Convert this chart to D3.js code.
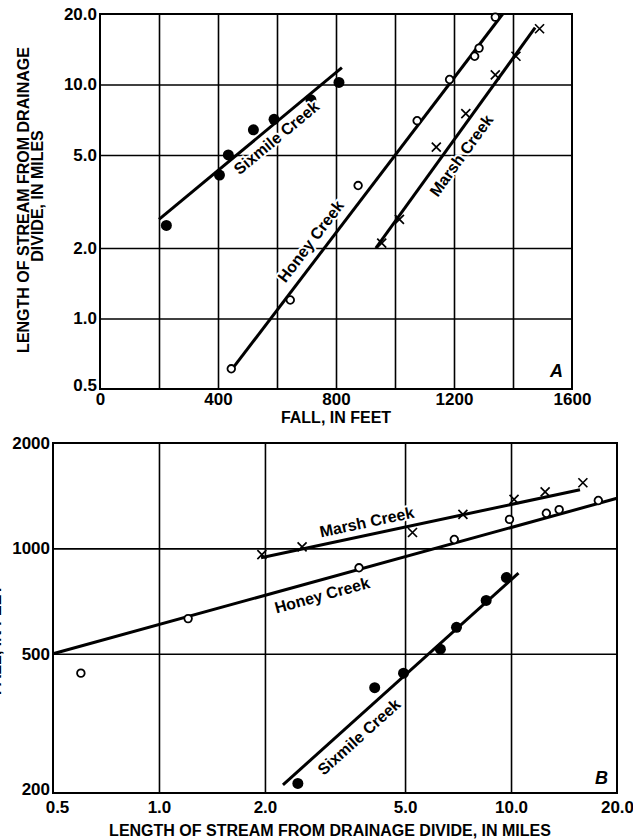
<!DOCTYPE html>
<html>
<head>
<meta charset="utf-8">
<script src="https://cdn.jsdelivr.net/npm/d3@7"></script>
<style>
  body { margin: 0; background: #fff; }
  svg { display: block; font-family: "Liberation Sans", Arial, sans-serif; font-weight: bold; }
  .grid line { stroke: #000; stroke-width: 1.6; }
  .grid .domain, .labels .domain { display: none; }
  .labels text { font-size: 17px; fill: #000; }
  .frame { fill: none; stroke: #000; stroke-width: 2; }
  .fit { fill: none; stroke: #000; stroke-width: 3; }
  .creek { font-size: 16px; paint-order: stroke; stroke: #fff; stroke-width: 4px; stroke-linejoin: round; }
  .title { font-size: 16px; }
  .panel-id { font-size: 18px; font-style: italic; }
</style>
</head>
<body>
<script>
// Panel A: fall (feet) vs length of stream (miles)
const sixmileA = [[225, 2.5], [405, 4.1], [435, 5.0], [520, 6.4], [590, 7.1], [715, 8.6], [810, 10.2]];
const honeyA = [[445, 0.61], [645, 1.2], [875, 3.7], [1075, 7.0], [1185, 10.5], [1270, 13.2], [1285, 14.3], [1340, 19.4]];
const marshA = [[955, 2.1], [1015, 2.65], [1140, 5.4], [1240, 7.5], [1340, 11.0], [1410, 13.2], [1490, 17.3]];
const sixmileFitA = [[200, 2.65], [820, 11.8]];
const honeyFitA = [[440, 0.59], [1365, 20]];
const marshFitA = [[935, 2.0], [1475, 17.5]];

// Panel B: length of stream (miles) vs fall (feet)
const sixmileB = [[2.48, 213], [4.1, 400], [4.95, 440], [6.3, 515], [7.0, 595], [8.5, 710], [9.7, 825]];
const honeyB = [[0.6, 440], [1.21, 630], [3.7, 880], [6.9, 1060], [9.9, 1210], [12.6, 1260], [13.7, 1290], [17.7, 1370]];
const marshB = [[1.96, 960], [2.55, 1010], [5.25, 1110], [7.3, 1250], [10.2, 1380], [12.5, 1450], [16, 1540]];
const sixmileFitB = [[2.25, 211], [10.5, 850]];
const honeyFitB = [[0.5, 500], [20, 1390]];
const marshFitB = [[1.95, 940], [15.7, 1470]];

// ticks and gridlines
const fallGridA = [200, 400, 600, 800, 1000, 1200, 1400];
const fallTicksA = [0, 400, 800, 1200, 1600];
const lengthGridA = [1, 2, 5, 10];
const lengthTicksA = [0.5, 1, 2, 5, 10, 20];
const lengthGridB = [1, 2, 5, 10];
const lengthTicksB = [0.5, 1, 2, 5, 10, 20];
const fallGridB = [500, 1000];
const fallTicksB = [200, 500, 1000, 2000];

const svg = d3.select('body').append('svg')
  .attr('width', 633)
  .attr('height', 840);

function drawPanel(p) {
  const x = p.x, y = p.y;
  const [x0, x1] = x.range();
  const [y0, y1] = y.range();
  const g = svg.append('g');

  // gridlines
  g.append('g').attr('class', 'grid')
    .attr('transform', `translate(0,${y0})`)
    .call(d3.axisBottom(x).tickValues(p.xGrid).tickSize(-(y0 - y1)).tickFormat(''));
  g.append('g').attr('class', 'grid')
    .attr('transform', `translate(${x0},0)`)
    .call(d3.axisLeft(y).tickValues(p.yGrid).tickSize(-(x1 - x0)).tickFormat(''));

  g.append('rect').attr('class', 'frame')
    .attr('x', x0).attr('y', y1)
    .attr('width', x1 - x0).attr('height', y0 - y1);

  // tick labels
  const xl = g.append('g').attr('class', 'labels')
    .attr('transform', `translate(0,${y0})`)
    .call(d3.axisBottom(x).tickValues(p.xTicks).tickSize(0).tickPadding(p.xPad).tickFormat(p.xFmt));
  const yl = g.append('g').attr('class', 'labels')
    .attr('transform', `translate(${x0},0)`)
    .call(d3.axisLeft(y).tickValues(p.yTicks).tickSize(0).tickPadding(3).tickFormat(p.yFmt));
  // lowest y label sits a little above its line, as in the print
  yl.selectAll('text').filter(d => d === y.domain()[0]).attr('y', -4);
  xl.selectAll('text').filter(d => d === x.domain()[0]).attr('x', p.firstNudge);

  const line = d3.line().x(d => x(d[0])).y(d => y(d[1]));

  p.series.forEach(s => {
    g.append('path').attr('class', 'fit').attr('d', line(s.fit));

    const pts = g.append('g').selectAll('g').data(s.points).enter().append('g')
      .attr('transform', d => `translate(${x(d[0])},${y(d[1])})`);
    if (s.marker === 'dot') {
      pts.append('circle').attr('r', 5.5).attr('fill', '#000');
    } else if (s.marker === 'ring') {
      pts.append('circle').attr('r', 3.8).attr('fill', '#fff')
        .attr('stroke', '#000').attr('stroke-width', 1.8);
    } else {
      pts.append('path').attr('d', 'M-4.5,-4.5L4.5,4.5M-4.5,4.5L4.5,-4.5')
        .attr('stroke', '#000').attr('stroke-width', 1.7);
    }

    // creek name along its fitted line
    const a = [x(s.fit[0][0]), y(s.fit[0][1])];
    const b = [x(s.fit[1][0]), y(s.fit[1][1])];
    const len = Math.hypot(b[0] - a[0], b[1] - a[1]);
    const ux = (b[0] - a[0]) / len, uy = (b[1] - a[1]) / len;
    const cx = a[0] + s.t * (b[0] - a[0]) - uy * s.off;
    const cy = a[1] + s.t * (b[1] - a[1]) + ux * s.off;
    const ang = Math.atan2(uy, ux) * 180 / Math.PI;
    g.append('text').attr('class', 'creek')
      .attr('text-anchor', 'middle').attr('dy', '0.35em')
      .attr('transform', `translate(${cx},${cy}) rotate(${ang})`)
      .text(s.name);
  });

  g.append('text').attr('class', 'panel-id')
    .attr('text-anchor', 'end')
    .attr('x', x1 - 9).attr('y', y0 - p.idLift)
    .text(p.id);
}

// Panel A
const xA = d3.scaleLinear().domain([0, 1600]).range([100, 572]);
const yA = d3.scaleLog().domain([0.5, 20]).range([389, 14]);
drawPanel({
  x: xA, y: yA, id: 'A', idLift: 12, firstNudge: 0,
  xGrid: fallGridA, yGrid: lengthGridA,
  xTicks: fallTicksA, yTicks: lengthTicksA,
  xFmt: d3.format('d'), yFmt: d3.format('.1f'), xPad: 4,
  series: [
    { name: 'Sixmile Creek', points: sixmileA, fit: sixmileFitA, marker: 'dot', t: 0.6, off: 12 },
    { name: 'Honey Creek', points: honeyA, fit: honeyFitA, marker: 'ring', t: 0.34, off: -15 },
    { name: 'Marsh Creek', points: marshA, fit: marshFitA, marker: 'cross', t: 0.46, off: 15 }
  ]
});

// Panel B
const xB = d3.scaleLog().domain([0.5, 20]).range([53, 617]);
const yB = d3.scaleLog().domain([200, 2000]).range([793, 443]);
drawPanel({
  x: xB, y: yB, id: 'B', idLift: 9, firstNudge: 4,
  xGrid: lengthGridB, yGrid: fallGridB,
  xTicks: lengthTicksB, yTicks: fallTicksB,
  xFmt: d3.format('.1f'), yFmt: d3.format('d'), xPad: 8,
  series: [
    { name: 'Marsh Creek', points: marshB, fit: marshFitB, marker: 'cross', t: 0.34, off: -13 },
    { name: 'Honey Creek', points: honeyB, fit: honeyFitB, marker: 'ring', t: 0.47, off: 15 },
    { name: 'Sixmile Creek', points: sixmileB, fit: sixmileFitB, marker: 'dot', t: 0.28, off: 15 }
  ]
});

// axis titles
svg.append('text').attr('class', 'title').attr('text-anchor', 'middle')
  .attr('x', 336).attr('y', 423).text('FALL, IN FEET');
svg.append('text').attr('class', 'title').attr('text-anchor', 'middle')
  .attr('x', 330).attr('y', 836).text('LENGTH OF STREAM FROM DRAINAGE DIVIDE, IN MILES');
svg.append('text').attr('class', 'title').attr('text-anchor', 'middle')
  .attr('transform', 'translate(29,200) rotate(-90)').text('LENGTH OF STREAM FROM DRAINAGE');
svg.append('text').attr('class', 'title').attr('text-anchor', 'middle')
  .attr('transform', 'translate(43,196) rotate(-90)').text('DIVIDE, IN MILES');
// panel B's vertical title lies almost entirely past the left edge in the print
svg.append('text').attr('class', 'title').attr('text-anchor', 'middle')
  .attr('transform', 'translate(1,640) rotate(-90)').text('FALL, IN FEET');
</script>
</body>
</html>
